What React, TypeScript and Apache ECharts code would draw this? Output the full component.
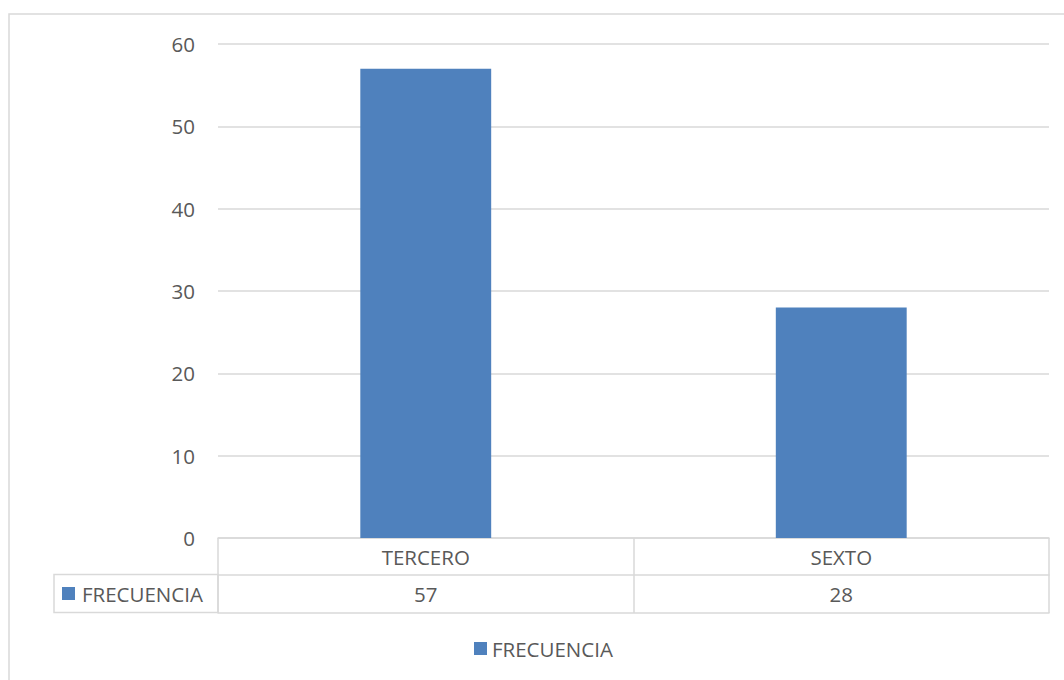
import React, { useEffect, useRef } from "react";
import * as echarts from "echarts";

const categories = ["TERCERO", "SEXTO"];
const seriesName = "FRECUENCIA";
const values = [57, 28];
const yTicks = { min: 0, max: 60, interval: 10 };

const TEXT = "#595959";
const LINE = "#d9d9d9";
const BAR = "#4f81bd";
const FONT = "Open Sans";
const FS = 20.5;

export default function App() {
  const ref = useRef<HTMLDivElement>(null);
  useEffect(() => {
    if (!ref.current) return;
    const chart = echarts.init(ref.current, null, { renderer: "svg" });
    chart.setOption({
      animation: false,
      textStyle: { fontFamily: FONT, color: TEXT },
      grid: { left: 218, right: 15, top: 44, bottom: 142, containLabel: false },
      legend: {
        top: 638,
        left: 474,
        icon: "rect",
        itemWidth: 13,
        itemHeight: 13,
        itemGap: 6,
        padding: 0,
        textStyle: { fontFamily: FONT, fontSize: FS, color: TEXT },
        data: [seriesName],
      },
      xAxis: [
        {
          type: "category",
          data: categories,
          position: "bottom",
          axisLine: { show: true, lineStyle: { color: LINE, width: 1.5 } },
          axisTick: { show: true, length: 75, lineStyle: { color: LINE, width: 1.5 } },
          axisLabel: { fontFamily: FONT, fontSize: FS, color: TEXT, margin: 8 },
        },
        {
          type: "category",
          data: values.map(String),
          position: "bottom",
          offset: 37,
          axisLine: { show: true, lineStyle: { color: LINE, width: 1.5 } },
          axisTick: { show: false },
          axisLabel: { fontFamily: FONT, fontSize: FS, color: TEXT, margin: 8 },
        },
        {
          type: "category",
          data: categories,
          position: "bottom",
          offset: 75,
          axisLine: { show: true, lineStyle: { color: LINE, width: 1.5 } },
          axisTick: { show: false },
          axisLabel: { show: false },
        },
      ],
      yAxis: {
        type: "value",
        min: yTicks.min,
        max: yTicks.max,
        interval: yTicks.interval,
        axisLine: { show: false },
        axisTick: { show: false },
        axisLabel: { fontFamily: FONT, fontSize: FS, color: TEXT, margin: 23 },
        splitLine: { lineStyle: { color: LINE, width: 1.5 } },
      },
      series: [
        {
          name: seriesName,
          type: "bar",
          data: values,
          barWidth: "31.5%",
          itemStyle: { color: BAR },
        },
      ],
      graphic: [
        {
          type: "rect",
          shape: { x: 9, y: 14, width: 1200, height: 800 },
          style: { fill: "none", stroke: LINE, lineWidth: 1.5 },
          silent: true,
        },
        {
          type: "rect",
          shape: { x: 54, y: 574.5, width: 164, height: 38 },
          style: { fill: "none", stroke: LINE, lineWidth: 1.5 },
          silent: true,
        },
        {
          type: "rect",
          shape: { x: 62, y: 587, width: 13, height: 13 },
          style: { fill: BAR },
          silent: true,
        },
        {
          type: "text",
          x: 82,
          y: 594,
          style: {
            text: seriesName,
            fontFamily: FONT,
            fontSize: FS,
            fill: TEXT,
            verticalAlign: "middle",
          },
          silent: true,
        },
      ],
    });
    return () => chart.dispose();
  }, []);
  return (
    <div
      ref={ref}
      style={{ position: "fixed", left: 0, top: 0, width: 1064, height: 680, background: "#fff" }}
    />
  );
}
